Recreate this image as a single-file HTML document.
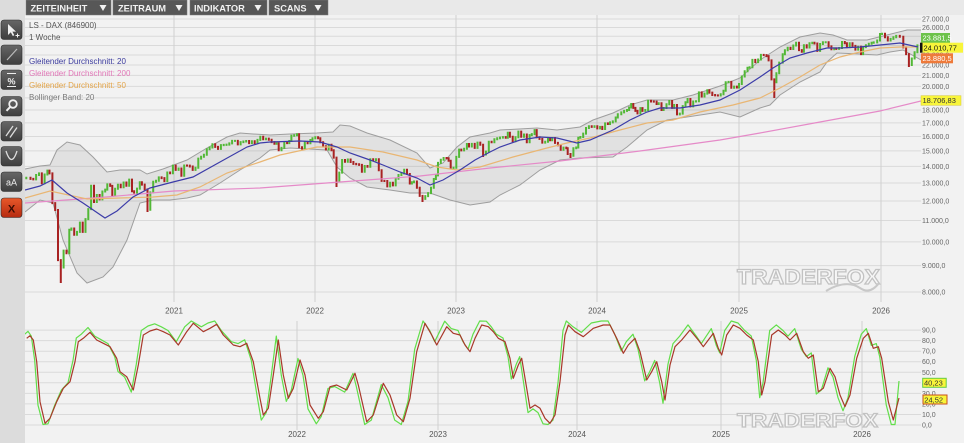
<!DOCTYPE html>
<html><head><meta charset="utf-8">
<style>
html,body{margin:0;padding:0;width:964px;height:443px;overflow:hidden;background:#f2f2f2;}
svg{position:absolute;left:0;top:0;font-family:"Liberation Sans",sans-serif;}
</style></head><body>
<svg width="964" height="443" viewBox="0 0 964 443" xmlns="http://www.w3.org/2000/svg">
<defs>
<linearGradient id="bg1" x1="0" y1="0" x2="0" y2="1"><stop offset="0" stop-color="#666"/><stop offset="1" stop-color="#3e3e3e"/></linearGradient>
<linearGradient id="bg2" x1="0" y1="0" x2="0" y2="1"><stop offset="0" stop-color="#e8582a"/><stop offset="1" stop-color="#b52a10"/></linearGradient>
<clipPath id="cu"><rect x="25" y="15" width="896" height="290"/></clipPath>
<clipPath id="cl"><rect x="25" y="318" width="880" height="125"/></clipPath>
</defs>
<rect x="0" y="0" width="964" height="443" fill="#f2f2f2"/>
<rect x="0" y="0" width="25" height="443" fill="#dcdcdc"/>
<rect x="25" y="0" width="939" height="15" fill="#e9e9e9"/>

<g stroke="#dadada" stroke-width="1">
<line x1="25" x2="921" y1="19" y2="19"/><line x1="25" x2="921" y1="27.5" y2="27.5"/><line x1="25" x2="921" y1="36.3" y2="36.3"/><line x1="25" x2="921" y1="45.5" y2="45.5"/><line x1="25" x2="921" y1="55" y2="55"/><line x1="25" x2="921" y1="65" y2="65"/><line x1="25" x2="921" y1="75.4" y2="75.4"/><line x1="25" x2="921" y1="86.4" y2="86.4"/><line x1="25" x2="921" y1="97.9" y2="97.9"/><line x1="25" x2="921" y1="110" y2="110"/><line x1="25" x2="921" y1="122.9" y2="122.9"/><line x1="25" x2="921" y1="136.5" y2="136.5"/><line x1="25" x2="921" y1="150.9" y2="150.9"/><line x1="25" x2="921" y1="166.4" y2="166.4"/><line x1="25" x2="921" y1="183" y2="183"/><line x1="25" x2="921" y1="201" y2="201"/><line x1="25" x2="921" y1="220.5" y2="220.5"/><line x1="25" x2="921" y1="241.9" y2="241.9"/><line x1="25" x2="921" y1="265.6" y2="265.6"/><line x1="25" x2="921" y1="292" y2="292"/>
</g>
<g stroke="#d0d0d0" stroke-width="1">
<line x1="174" x2="174" y1="15" y2="302"/><line x1="315" x2="315" y1="15" y2="302"/><line x1="456" x2="456" y1="15" y2="302"/><line x1="597" x2="597" y1="15" y2="302"/><line x1="739" x2="739" y1="15" y2="302"/><line x1="881" x2="881" y1="15" y2="302"/>
</g>
<g stroke="#dadada" stroke-width="1">
<line x1="25" x2="921" y1="330.1" y2="330.1"/><line x1="25" x2="921" y1="340.6" y2="340.6"/><line x1="25" x2="921" y1="351.2" y2="351.2"/><line x1="25" x2="921" y1="361.7" y2="361.7"/><line x1="25" x2="921" y1="372.3" y2="372.3"/><line x1="25" x2="921" y1="382.8" y2="382.8"/><line x1="25" x2="921" y1="393.4" y2="393.4"/><line x1="25" x2="921" y1="403.9" y2="403.9"/><line x1="25" x2="921" y1="414.5" y2="414.5"/><line x1="25" x2="921" y1="425" y2="425"/>
</g>
<g stroke="#d0d0d0" stroke-width="1">
<line x1="297" x2="297" y1="321" y2="430"/><line x1="438" x2="438" y1="321" y2="430"/><line x1="577" x2="577" y1="321" y2="430"/><line x1="721" x2="721" y1="321" y2="430"/><line x1="862" x2="862" y1="321" y2="430"/>
</g>

<text x="737" y="284" font-size="21" font-weight="bold" textLength="143" lengthAdjust="spacingAndGlyphs" fill="#f7f7f7" stroke="#c2c2c2" stroke-width="1.2">TRADERFOX</text>
<path d="M826 291 Q846 279 860 288 Q870 295 879 283" fill="none" stroke="#c8c8c8" stroke-width="2"/>
<text x="737" y="427" font-size="19" font-weight="bold" textLength="141" lengthAdjust="spacingAndGlyphs" fill="#f7f7f7" stroke="#c2c2c2" stroke-width="1.2">TRADERFOX</text>

<g clip-path="url(#cu)">
<polygon fill="#000" fill-opacity="0.065" points="25,169 40,166 50,165 57,150 67,142 80,145 93,157 107,172 120,170 140,170 147,174 163,169 187,160 207,148 227,137 240,133 253,134 270,135 290,134 317,133 333,132 340,125 350,126 367,133 390,140 417,153 430,168 443,163 457,147 470,137 490,133 500,130 537,128 557,130 580,127 593,120 613,113 630,105 647,100 673,100 693,95 720,86 740,78 760,60 780,47 800,37 820,33 833,35 847,40 867,40 887,35 907,30 921,30 921,60 903,50 890,52 877,55 860,54 837,53 827,62 820,72 800,82 780,95 770,105 760,108 740,117 720,112 687,117 667,120 647,130 627,147 613,157 580,158 560,160 540,170 520,185 500,195 490,202 470,205 450,200 430,193 410,193 390,190 367,187 350,178 337,167 327,150 290,148 270,150 260,158 240,170 220,183 200,195 187,198 170,200 153,200 140,203 127,240 113,267 103,277 87,283 77,273 63,240 53,203 40,200 25,212"/>
<polyline fill="none" stroke="#9e9e9e" stroke-width="1" points="25,169 40,166 50,165 57,150 67,142 80,145 93,157 107,172 120,170 140,170 147,174 163,169 187,160 207,148 227,137 240,133 253,134 270,135 290,134 317,133 333,132 340,125 350,126 367,133 390,140 417,153 430,168 443,163 457,147 470,137 490,133 500,130 537,128 557,130 580,127 593,120 613,113 630,105 647,100 673,100 693,95 720,86 740,78 760,60 780,47 800,37 820,33 833,35 847,40 867,40 887,35 907,30 921,30"/>
<polyline fill="none" stroke="#9e9e9e" stroke-width="1" points="25,212 40,200 53,203 63,240 77,273 87,283 103,277 113,267 127,240 140,203 153,200 170,200 187,198 200,195 220,183 240,170 260,158 270,150 290,148 327,150 337,167 350,178 367,187 390,190 410,193 430,193 450,200 470,205 490,202 500,195 520,185 540,170 560,160 580,158 613,157 627,147 647,130 667,120 687,117 720,112 740,117 760,108 770,105 780,95 800,82 820,72 827,62 837,53 860,54 877,55 890,52 903,50 921,60"/>

<path fill="none" stroke="#52b836" stroke-width="2" d="M26.3 176.7V179.3M36.1 174V180.4M39 172.4V176M44.6 173.5V184.3M47.4 169.6V175.5M63.6 249.6V268.5M69.3 228.8V254.2M71.4 227.5V230.8M77 230.9V235.7M79.9 221.6V232.9M85.5 218.1V232.9M88.3 208.1V220.1M91.1 184.7V210.1M96.8 194V203M102.4 190.5V200.4M105.2 188.6V192.5M107.3 183.4V190.6M115.1 187.8V196.4M117.9 183.8V189.8M123.6 181.5V188.2M129.2 178.6V186.8M137 187.6V193.6M139.8 181.2V189.6M150.3 191.4V210.7M153.2 180.7V193.4M156 179.7V182.7M158.8 176.4V181.7M167.3 171.5V182.1M172.9 164.6V174.3M178.6 167.5V170.9M184.2 164.5V176.8M195.5 166.7V170.9M198.3 157.6V168.7M201.1 155.8V159.6M203.9 153.7V157.8M206.8 148.3V155.7M209.6 146.5V150.3M212.4 143.3V148.5M220.9 144.1V149.9M223.7 143.9V146.1M226.5 143.6V145.9M229.3 142.4V145.6M232.1 139.9V144.4M235 139.9V141.9M240.6 141.1V145.4M243.4 140.5V143.1M246.2 140V142.5M251.9 140.3V144.1M257.5 138.9V144.1M260.3 135.8V140.9M266 137.6V140.3M276.6 142.3V144.8M281.5 146.9V151.3M284.3 141.4V148.9M289.3 140V144.1M291.4 134.8V142M294.2 134.2V136.8M297 133.3V136.2M304.8 140.9V149.5M310.4 139V144.2M312.5 137.2V141M315.3 136.3V139.2M328.7 143.8V150.5M339.3 171.6V182.4M342.1 159V173.6M347.8 158.5V162.7M364.7 165V172.8M370.3 158.2V167.7M376 158.3V161.4M390.1 181.8V187.4M395.7 177.8V186.4M398.5 174V179.8M401.4 172.5V176M404.2 168.8V174.5M411.9 181.2V184.5M414 180.5V183.2M425.3 195.1V199.9M428.1 192.1V197.1M431 186.8V194.1M433.8 178V188.8M435.9 174.4V180M438 161.9V176.4M440.8 158.7V163.9M443.6 157V160.7M453.5 166.7V169.2M456.3 155.9V168.7M459.1 148.6V157.9M464.1 147.7V151.4M466.9 143V149.7M471.8 142.9V147.5M477.5 141.6V148.9M485.9 150.6V155.5M488.8 140.8V152.6M494.4 138.3V143.3M497.2 137.2V140.3M500 136.6V139.2M502.9 136.1V138.6M507.8 131.8V138.7M515.5 136.2V142.3M518.4 130.6V138.2M524 133.5V137.7M529.6 134.1V143.2M531.8 133.1V136.1M534.6 129.1V135.1M545.2 140.8V143.6M548 137.8V142.8M552.2 137V141.2M563.5 146.6V150.8M573.4 147.2V156.7M576.2 146.5V149.2M578.3 136.7V148.5M580.4 136V138.7M583.2 132.6V138M586 127V134.6M588.9 125.3V129M594.5 125.3V127.9M600.1 125.9V129.4M605.1 122.4V130M610 121.4V125M612.8 120.4V123.4M615.7 116.5V122.4M617.8 113.2V118.5M621.3 111.4V115.2M624.1 109.9V113.4M627 109V111.9M629.1 106.5V111M631.2 103V108.5M640.4 107.1V114.4M645.3 109V111.9M648.1 99.7V111M658.7 102.3V105M663.6 107V111M666.5 103.3V109M669.3 100V105.3M674.2 104V108.9M679.8 112.6V115.4M682.7 105.1V114.6M685.5 101.3V107.1M687.6 98V103.3M693.2 100.5V107.4M696 100.3V102.5M698.9 91.4V102.3M704.5 92.6V97.5M707.3 89.3V94.6M720.7 93.2V96.5M723.5 89.7V95.2M725.7 81.2V91.7M728.5 80.9V83.2M734.1 85.6V88.7M739 83V88.5M741.8 75.5V85M744.7 70.3V77.5M747.5 66.8V72.3M749.6 66.2V68.8M752.4 58.9V68.2M758.1 58.5V63.1M760.9 53.9V60.5M776.4 72.3V83.3M779.2 61.6V74.3M782.7 53.2V63.6M784.9 49.3V55.2M787.7 46.7V51.3M793.3 44.5V50M796.1 41.7V46.5M803.9 44.2V52.7M809.5 42.2V48.5M812.3 41.8V44.2M820.1 43V51.9M822.9 41.2V45M825.7 41.2V43.2M834.2 47.4V50.3M839.1 47V49.9M842 41V49M849.7 42.3V48.1M858.2 45.7V50.6M863.1 46.1V55.1M865.9 44.2V48.1M868.8 42.8V46.2M871.6 41.8V44.8M873.7 41.4V43.8M877.2 39.5V43.4M880 33V41.5M882.1 32.7V35M890.6 37.9V41.5M893.4 36.2V39.9M896.2 34.9V38.2M911.8 57.5V66M914.6 51.2V59.5M917.4 44.4V53.2"/>
<path fill="none" stroke="#a82222" stroke-width="2" d="M30.5 176.7V179.9M33.3 177.9V180.4M41.8 172.4V184.3M49.5 169.6V174.4M52.4 172.4V204.1M55.2 202.1V211M58 209V261.1M60.8 259.1V283M66.5 249.6V254.2M74.2 227.5V235.7M82.7 221.6V232.9M94 184.7V203M99.6 194V200.4M110.2 183.4V186.9M112.3 184.9V196.4M120.7 183.8V188.2M126.4 181.5V186.8M132 178.6V192.2M134.1 190.2V193.6M141.9 181.2V185.6M144.7 183.6V190.4M147.5 188.4V212M161.6 176.4V179.1M164.4 177.1V182.1M170.1 171.5V174.3M175.7 164.6V170.9M181.4 167.5V176.8M187 164.5V166.6M189.8 164.6V167.5M192.7 165.5V170.9M215.2 143.3V147.9M218 145.9V149.9M237.8 139.9V145.4M249.1 140V144.1M254.7 140.3V144.1M263.2 135.8V140.3M268.8 137.6V140.7M271.6 138.7V143.1M274.4 141.1V144.8M278.7 142.3V151.3M287.1 141.4V144.1M299.1 133.3V148.2M302 146.2V149.5M307.6 140.9V144.2M318.1 136.3V139.2M320.3 137.2V143.2M323.1 141.2V147.3M325.9 145.3V150.5M331.5 143.8V151.3M333.7 149.3V158.6M336.5 156.6V187M345 159V162.7M350.6 158.5V163M353.4 161V164.9M356.2 162.9V165.2M359.1 163.2V165.9M361.9 163.9V172.8M367.5 165V167.7M373.2 158.2V161.4M378.8 158.3V171.3M381.6 169.3V181.9M384.4 179.9V182M387.3 180V187.4M392.9 181.8V186.4M407 168.8V175M409.8 173V184.5M416.9 180.5V188.7M419.7 186.7V196.9M422.5 194.9V202M446.5 157V159.2M448.6 157.2V161.7M450.7 159.7V169.2M461.3 148.6V151.4M469 143V147.5M474.7 142.9V148.9M480.3 141.6V145.8M483.1 143.8V157M491.6 140.8V143.3M505.7 136.1V138.7M509.9 131.8V137.7M512.7 135.7V142.3M521.2 130.6V137.7M526.8 133.5V143.2M536.7 129.1V138.2M539.5 136.2V139.9M542.3 137.9V143.6M550.1 137.8V141.2M555 137V143.9M557.9 141.9V146.3M560.7 144.3V150.8M566.3 146.6V149.2M567.7 147.2V155M570.5 153V158M591.7 125.3V127.9M597.3 125.3V129.4M602.3 125.9V130M607.9 122.4V125M633.3 103V108.9M635.4 106.9V111.9M637.5 109.9V114.4M642.5 107.1V111.9M651 99.7V102.5M653.8 100.5V102.6M656.6 100.6V105M661.5 102.3V111M672.1 100V108.9M677 104V115.4M690.4 98V107.4M701.7 91.4V97.5M709.4 89.3V93.6M712.3 91.6V96M715.1 94V96.4M717.9 94.4V96.5M731.3 80.9V88.7M736.9 85.6V88.5M755.3 58.9V63.1M763.7 53.9V56.1M766.5 54.1V57.1M768.6 55.1V61.4M771.5 59.4V80.4M774.3 78.4V98M790.5 46.7V50M799 41.7V51.1M801.8 49.1V52.7M806.7 44.2V48.5M814.5 41.8V44.5M817.3 42.5V51.9M828.6 41.2V47.4M831.4 45.4V50.3M836.3 47.4V49.9M844.8 41V44.3M846.9 42.3V48.1M852.5 42.3V46.9M855.4 44.9V50.6M861 45.7V55.1M885 32.7V38.2M887.8 36.2V41.5M899.8 34.9V37.8M903.3 35.8V48.4M906.1 46.4V55.1M908.9 53.1V67"/>

<polyline fill="none" stroke="#e58ac8" stroke-width="1.2" points="25,203 100,197.5 174,191 260,188 340,182 420,176 490,168 560,161 640,151 720,140 760,133 820,122 880,111 921,101"/>
<polyline fill="none" stroke="#e9b673" stroke-width="1.2" points="25,198 50,191 87,199 120,198 153,197 177,195 200,187 227,173 260,162 280,155 317,147 350,147 383,152 417,160 437,167 457,170 480,167 513,157 547,148 567,143 590,138 620,130 647,123 673,120 700,112 733,105 760,98 780,88 800,77 820,65 840,57 860,52 880,48 900,47 918,47"/>
<polyline fill="none" stroke="#3c3ca8" stroke-width="1.2" points="25,190 40,186 52,180 67,193 83,203 105,218 117,211 133,197 150,188 173,182 193,177 220,162 247,147 260,143 270,142 300,141 320,142 337,147 350,153 370,160 383,165 400,172 417,178 430,185 443,180 460,170 475,160 490,152 500,147 520,140 540,137 557,138 577,143 590,140 613,130 630,120 647,112 660,108 680,108 700,105 720,100 740,90 760,77 773,68 790,58 807,53 827,48 840,48 860,47 880,45 900,43 918,47"/>
</g>

<g clip-path="url(#cl)" fill="none" stroke-width="1.2" stroke-linejoin="round">
<polyline stroke="#62de4a" points="24.7,334.2 28,331.3 31.3,336.1 34.7,360.4 38,405.2 43,424.5 48,423.8 54.7,405.2 61.3,390.2 68,382.8 73,360.4 76.3,338 81.3,334.2 88,327.5 94.7,336.1 101.3,339.8 108,343.6 114.7,356.6 118,371.6 124.7,377.2 131.3,392.1 136.3,364.1 141.3,330.5 148,326 154.7,323.8 161.3,326.8 168,330.5 176.3,341.7 184.7,326.8 191.3,321 201.3,326.8 208,323 214.7,321 221.3,330.5 231.3,341.7 238,343.6 244.7,339.8 251.3,360.4 258,401.4 261.3,420.1 266.3,412.6 271.3,375.3 276.3,336.1 281.3,375.3 286.3,401.4 291.3,390.2 298,358.5 303,375.3 308,408.9 316.3,423.8 321.3,416.4 328,388.4 334.7,386.5 344.7,392.1 353,373.4 356.3,386.5 364.7,424.5 371.3,420.1 381.3,384.6 388,397.7 394.7,420.1 401.3,424.5 408,401.4 414.7,349.2 423,321 429.7,330.5 434.7,341.7 444.7,321.2 451.3,328.6 458,330.5 463,341.7 468,349.2 473,334.2 479.7,321 486.3,321.2 491.3,326.8 496.3,334.2 503,338 508,356.6 511.3,379 516.3,364.1 519.7,356.6 524.7,390.2 528,412.6 533,408.9 538,412.6 543,423.8 548,424.5 553,420.1 558,382.8 563,330.5 566.3,321 573,326.8 581.3,332.4 591.3,323 601.3,321 608,321 614.7,334.2 621.3,351 626.3,341.7 633,334.2 638,349.2 644.7,380.9 649.7,371.6 654.7,360.4 659.7,382.8 663,403.3 668,364.1 673,343.6 679.7,336.1 688,324.9 696.3,336.1 701.3,343.6 706.3,336.1 711.3,328.6 716.3,345.4 719.7,352.9 724.7,330.5 731.3,321 738,323 744.7,330.5 751.3,336.1 756.3,360.4 759.7,397.7 763,382.8 769.7,330.5 776.3,324.9 783,330.5 788,336.1 794.7,328.6 801.3,349.2 806.3,356.6 811.3,352.9 816.3,394 821.3,390.2 828,367.8 833,377.2 838,397.7 843,410.8 848,397.7 854.7,356.6 861.3,334.2 866.3,328.6 871.3,345.4 876.3,343.6 879.7,356.6 886.3,405.2 891.3,424.5 895,424.5 899,381"/>
<polyline stroke="#a8382a" points="26.7,338.3 30,335.7 33.3,340 36.7,361.7 40,401.7 45,423.3 50,418.3 56.7,401.7 63.3,388.3 70,381.7 75,361.7 78.3,341.7 83.3,338.3 90,332.3 96.7,340 103.3,343.3 110,346.7 116.7,358.3 120,371.7 126.7,376.7 133.3,390 138.3,365 143.3,335 150,331 156.7,329 163.3,331.7 170,335 178.3,345 186.7,331.7 193.3,323.3 203.3,331.7 210,328.3 216.7,324.3 223.3,335 233.3,345 240,346.7 246.7,343.3 253.3,361.7 260,398.3 263.3,415 268.3,408.3 273.3,375 278.3,340 283.3,375 288.3,398.3 293.3,388.3 300,360 305,375 310,405 318.3,418.3 323.3,411.7 330,386.7 336.7,385 346.7,390 355,373.3 358.3,385 366.7,421.7 373.3,415 383.3,383.3 390,395 396.7,415 403.3,421.7 410,398.3 416.7,351.7 425,323.3 431.7,335 436.7,345 446.7,326.7 453.3,333.3 460,335 465,345 470,351.7 475,338.3 481.7,325 488.3,326.7 493.3,331.7 498.3,338.3 505,341.7 510,358.3 513.3,378.3 518.3,365 521.7,358.3 526.7,388.3 530,408.3 535,405 540,408.3 545,418.3 550,423.3 555,415 560,381.7 565,335 568.3,325 575,331.7 583.3,336.7 593.3,328.3 603.3,325 610,325 616.7,338.3 623.3,353.3 628.3,345 635,338.3 640,351.7 646.7,380 651.7,371.7 656.7,361.7 661.7,381.7 665,400 670,365 675,346.7 681.7,340 690,330 698.3,340 703.3,346.7 708.3,340 713.3,333.3 718.3,348.3 721.7,355 726.7,335 733.3,325 740,328.3 746.7,335 753.3,340 758.3,361.7 761.7,395 765,381.7 771.7,335 778.3,330 785,335 790,340 796.7,333.3 803.3,351.7 808.3,358.3 813.3,355 818.3,391.7 823.3,388.3 830,368.3 835,376.7 840,395 845,406.7 850,395 856.7,358.3 863.3,338.3 868.3,333.3 873.3,348.3 878.3,346.7 881.7,358.3 888.3,401.7 893.3,420 899,398"/>
</g>

<g font-size="8">
<text x="29" y="28" fill="#555">LS - DAX (846900)</text>
<text x="29" y="40" fill="#555">1 Woche</text>
<text x="29" y="64" fill="#3a3a9c">Gleitender Durchschnitt: 20</text>
<text x="29" y="76" fill="#e277b8">Gleitender Durchschnitt: 200</text>
<text x="29" y="88" fill="#e3a448">Gleitender Durchschnitt: 50</text>
<text x="29" y="100" fill="#7a7a7a">Bollinger Band: 20</text>
</g>

<g font-size="7" fill="#666">
<text x="922" y="21.5">27.000,0</text><text x="922" y="30">26.000,0</text><text x="922" y="38.8">25.000,0</text><text x="922" y="48">24.000,0</text><text x="922" y="57.5">23.000,0</text><text x="922" y="67.5">22.000,0</text><text x="922" y="77.9">21.000,0</text><text x="922" y="88.9">20.000,0</text><text x="922" y="100.4">19.000,0</text><text x="922" y="112.5">18.000,0</text><text x="922" y="125.4">17.000,0</text><text x="922" y="139">16.000,0</text><text x="922" y="153.4">15.000,0</text><text x="922" y="168.9">14.000,0</text><text x="922" y="185.5">13.000,0</text><text x="922" y="203.5">12.000,0</text><text x="922" y="223">11.000,0</text><text x="922" y="244.4">10.000,0</text><text x="922" y="268.1">9.000,0</text><text x="922" y="294.5">8.000,0</text>
</g>
<g font-size="8" fill="#555" text-anchor="middle">
<text x="174" y="313.5">2021</text><text x="315" y="313.5">2022</text><text x="456" y="313.5">2023</text><text x="597" y="313.5">2024</text><text x="739" y="313.5">2025</text><text x="881" y="313.5">2026</text>
<text x="297" y="437">2022</text><text x="438" y="437">2023</text><text x="577" y="437">2024</text><text x="721" y="437">2025</text><text x="862" y="437">2026</text>
</g>
<g font-size="7" fill="#666">
<text x="922" y="332.6">90,0</text><text x="922" y="343.1">80,0</text><text x="922" y="353.7">70,0</text><text x="922" y="364.2">60,0</text><text x="922" y="374.8">50,0</text><text x="922" y="385.3">40,0</text><text x="922" y="395.9">30,0</text><text x="922" y="406.4">20,0</text><text x="922" y="417">10,0</text><text x="922" y="427.5">0,0</text>
</g>

<rect x="921" y="33" width="29" height="10" fill="#6cc24a"/>
<text x="922.5" y="40.5" font-size="7.5" fill="#fff">23.881,5</text>
<rect x="920" y="42.7" width="43" height="10" fill="#f8f53a"/>
<rect x="920" y="42.7" width="2.5" height="10" fill="#111"/>
<text x="923.5" y="50.5" font-size="7.5" fill="#111">24.010,77</text>
<rect x="921" y="53.3" width="32" height="10" fill="#ee7a3a"/>
<text x="922.5" y="61" font-size="7.5" fill="#fff">23.880,5</text>
<rect x="921" y="95.7" width="40" height="9.6" fill="#f8f53a" stroke="#d8c830" stroke-width="0.5"/>
<text x="922.5" y="103.2" font-size="7.5" fill="#333">18.706,83</text>
<rect x="922.7" y="378.3" width="23.5" height="9" fill="#f8f53a" stroke="#66cc44" stroke-width="1"/>
<text x="924" y="385.6" font-size="7.5" fill="#333">40,23</text>
<rect x="923" y="395" width="24" height="9" fill="#f8f53a" stroke="#c8501c" stroke-width="1"/>
<text x="924.3" y="402.3" font-size="7.5" fill="#333">24,52</text>

<rect x="26" y="0" width="85" height="15" fill="#575757" stroke="#7a7a7a" stroke-width="0.5"/>
<rect x="113" y="0" width="74" height="15" fill="#575757" stroke="#7a7a7a" stroke-width="0.5"/>
<rect x="190" y="0" width="77" height="15" fill="#575757" stroke="#7a7a7a" stroke-width="0.5"/>
<rect x="269" y="0" width="59" height="15" fill="#575757" stroke="#7a7a7a" stroke-width="0.5"/>
<g font-size="9.3" font-weight="bold" fill="#f2f2f2">
<text x="30.5" y="11.3">ZEITEINHEIT</text>
<text x="118" y="11.3">ZEITRAUM</text>
<text x="194" y="11.3">INDIKATOR</text>
<text x="274" y="11.3">SCANS</text>
</g>
<g fill="#f2f2f2">
<polygon points="99.5,5 106.5,5 103,11"/><polygon points="175.5,5 182.5,5 179,11"/><polygon points="254.5,5 261.5,5 258,11"/><polygon points="314.5,5 321.5,5 318,11"/>
</g>

<g stroke="#2e2e2e" stroke-width="0.6">
<rect x="1" y="20" width="21" height="19.5" rx="3" fill="url(#bg1)"/>
<rect x="1" y="45" width="21" height="19.5" rx="3" fill="url(#bg1)"/>
<rect x="1" y="70" width="21" height="19.5" rx="3" fill="url(#bg1)"/>
<rect x="1" y="96.5" width="21" height="19.5" rx="3" fill="url(#bg1)"/>
<rect x="1" y="121.5" width="21" height="19.5" rx="3" fill="url(#bg1)"/>
<rect x="1" y="146.5" width="21" height="19.5" rx="3" fill="url(#bg1)"/>
<rect x="1" y="172" width="21" height="19.5" rx="3" fill="url(#bg1)"/>
<rect x="1" y="198" width="21" height="19.5" rx="3" fill="url(#bg2)"/>
</g>
<polygon points="8,24 8,35 10.8,32.3 12.8,36 14.3,35.3 12.4,31.6 16,31.6" fill="#f0f0f0"/>
<path d="M15.5 35.5h4M17.5 33.5v4" stroke="#f0f0f0" stroke-width="1"/>
<path d="M7 60L17 49" stroke="#bbb" stroke-width="1.2"/>
<path d="M7 73.5h9M7 86.5h9" stroke="#eee" stroke-width="1"/>
<text x="11.5" y="84.5" font-size="9" font-weight="bold" fill="#eee" text-anchor="middle">%</text>
<circle cx="13" cy="104" r="3.8" fill="none" stroke="#f0f0f0" stroke-width="1.8"/>
<path d="M10.3 106.8L6.5 110.8" stroke="#f0f0f0" stroke-width="2"/>
<path d="M6 136L13 126M10 137.5L17 127.5" stroke="#ddd" stroke-width="1.3"/>
<path d="M6 151Q11.5 168 17 151" fill="none" stroke="#ddd" stroke-width="1.3"/>
<text x="11.5" y="185.5" font-size="9" fill="#f0f0f0" text-anchor="middle">aA</text>
<text x="11.5" y="212.5" font-size="11" font-weight="bold" fill="#3a0c02" text-anchor="middle">X</text>
</svg>
</body></html>
